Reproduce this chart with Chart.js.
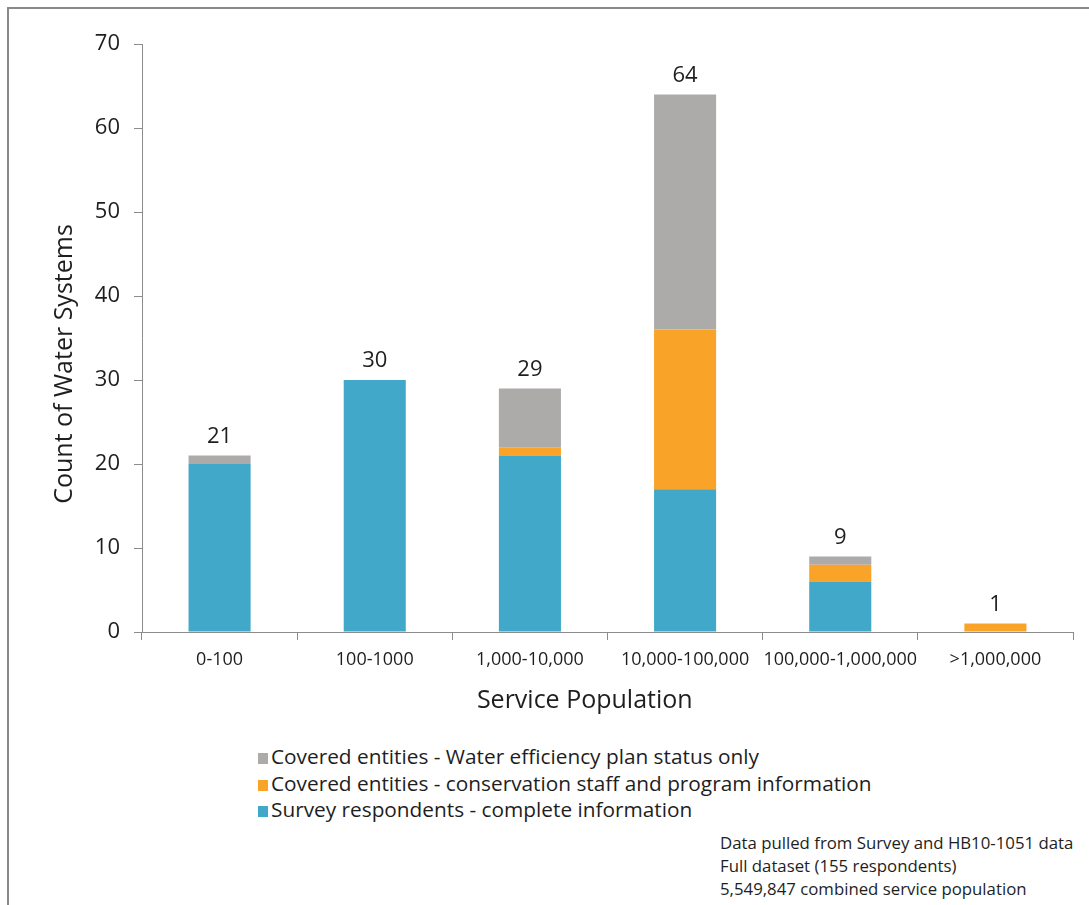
<!DOCTYPE html>
<html>
<head>
<meta charset="utf-8">
<script src="https://cdn.jsdelivr.net/npm/chart.js@4.4.1/dist/chart.umd.min.js"></script>
<style>
  html, body { margin: 0; padding: 0; background: #fff; }
  body { width: 1089px; height: 905px; position: relative; overflow: hidden; font-family: "Open Sans", sans-serif; color: #1e1e1e; }
  #wrap { position: absolute; left: 0; top: 0; width: 1089px; height: 730px; }
  .bt { position: absolute; left: 7px; top: 7px; width: 1082px; height: 2px; background: #8a8a8a; }
  .bl { position: absolute; left: 7px; top: 7px; width: 2px; height: 898px; background: #8a8a8a; }
  .legend { position: absolute; left: 258px; top: 743px; font-size: 20.8px; line-height: 26.5px; }
  .legend div { white-space: nowrap; }
  .legend span.box { display: inline-block; width: 10px; height: 11px; margin-right: 3px; vertical-align: 0px; }
  .notes { position: absolute; left: 720px; top: 831px; font-size: 16.8px; line-height: 23px; white-space: nowrap; }
</style>
</head>
<body>
<div id="wrap"><canvas id="c" width="1089" height="730"></canvas></div>
<div class="bt"></div><div class="bl"></div>
<div class="legend" id="legend"></div>
<div class="notes">
  <div>Data pulled from Survey and HB10-1051 data</div>
  <div>Full dataset (155 respondents)</div>
  <div>5,549,847 combined service population</div>
</div>
<script>
const categories = ["0-100", "100-1000", "1,000-10,000", "10,000-100,000", "100,000-1,000,000", ">1,000,000"];
const surveyComplete = [20, 30, 21, 17, 6, 0];
const conservationStaff = [0, 0, 1, 19, 2, 1];
const planStatusOnly = [1, 0, 7, 28, 1, 0];
const seriesNames = [
  "Survey respondents - complete information",
  "Covered entities - conservation staff and program information",
  "Covered entities - Water efficiency plan status only"
];
const seriesColors = ["#41A8C9", "#F9A328", "#ADAAAA"];
const yTicks = [0, 10, 20, 30, 40, 50, 60, 70];

const seriesData = [surveyComplete, conservationStaff, planStatusOnly];
const totals = categories.map((_, i) => seriesData.reduce((s, d) => s + d[i], 0));

const FONT = "'Open Sans', sans-serif";
const TEXT = "#1e1e1e";
const AXIS = "#8c8c8c";

const totalLabels = {
  id: "totalLabels",
  afterDatasetsDraw(chart) {
    const ctx = chart.ctx;
    const y = chart.scales.y;
    const meta = chart.getDatasetMeta(0);
    ctx.save();
    ctx.font = "22px " + FONT;
    ctx.fillStyle = TEXT;
    ctx.textAlign = "center";
    ctx.textBaseline = "middle";
    totals.forEach((t, i) => {
      const x = meta.data[i].x;
      ctx.fillText(String(t), x, y.getPixelForValue(t) - 19);
    });
    ctx.restore();
  }
};

new Chart(document.getElementById("c"), {
  type: "bar",
  data: {
    labels: categories,
    datasets: seriesNames.map((n, k) => ({
      label: n,
      data: seriesData[k],
      backgroundColor: seriesColors[k],
      borderWidth: 0,
      categoryPercentage: 1,
      barPercentage: 0.4
    }))
  },
  options: {
    responsive: false,
    animation: false,
    layout: { padding: { left: 0, top: 44, right: 16, bottom: 0 } },
    plugins: { legend: { display: false }, tooltip: { enabled: false } },
    scales: {
      x: {
        stacked: true,
        grid: { display: true, drawOnChartArea: false, drawTicks: true, tickLength: 8, color: AXIS, offset: true },
        border: { display: true, color: AXIS, width: 1 },
        ticks: { color: TEXT, font: { family: FONT, size: 18 }, padding: 9, maxRotation: 0, autoSkip: false },
        title: { display: true, text: "Service Population       ", color: TEXT, font: { family: FONT, size: 25 }, padding: { top: 0, bottom: 14 } },
        afterFit(scale) { scale.height = 98; }
      },
      y: {
        stacked: true,
        min: 0, max: 70,
        afterBuildTicks(scale) { scale.ticks = yTicks.map(v => ({ value: v })); },
        grid: { display: true, drawOnChartArea: false, drawTicks: true, tickLength: 8, color: AXIS },
        border: { display: true, color: AXIS, width: 1 },
        ticks: { color: TEXT, font: { family: FONT, size: 22 }, padding: 14 },
        title: { display: true, text: "Count of Water Systems        ", color: TEXT, font: { family: FONT, size: 25 }, padding: { top: 50, bottom: 0 } },
        afterFit(scale) { scale.width = 142; }
      }
    }
  },
  plugins: [totalLabels]
});

const leg = document.getElementById("legend");
[2, 1, 0].forEach(k => {
  const row = document.createElement("div");
  const b = document.createElement("span");
  b.className = "box";
  b.style.background = seriesColors[k];
  row.appendChild(b);
  row.appendChild(document.createTextNode(seriesNames[k]));
  leg.appendChild(row);
});
</script>
</body>
</html>
